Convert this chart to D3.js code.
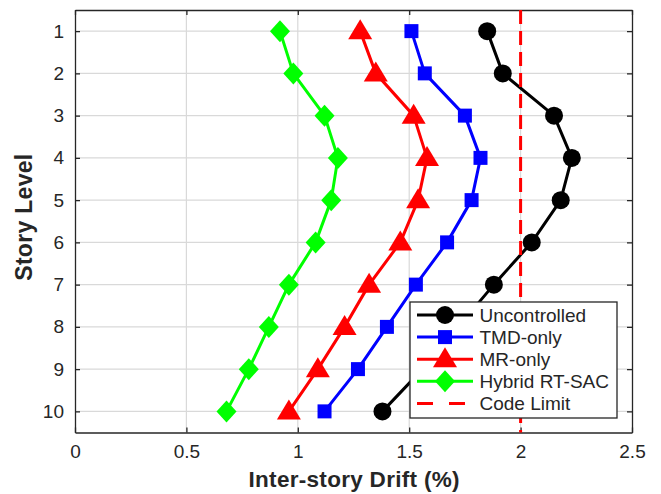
<!DOCTYPE html>
<html>
<head>
<meta charset="utf-8">
<script src="https://cdn.jsdelivr.net/npm/d3@7"></script>
<style>
  html, body { margin: 0; padding: 0; background: #fff; }
  svg { display: block; }
  text { font-family: "Liberation Sans", Arial, Helvetica, sans-serif; }
</style>
</head>
<body>
<svg id="chart" width="661" height="494"></svg>
<script>
const storyLevels = [1, 2, 3, 4, 5, 6, 7, 8, 9, 10];
const uncontrolled = [1.85, 1.92, 2.15, 2.23, 2.18, 2.05, 1.88, 1.72, 1.56, 1.38];
const tmdOnly      = [1.51, 1.57, 1.75, 1.82, 1.78, 1.67, 1.53, 1.40, 1.27, 1.12];
const mrOnly       = [1.28, 1.35, 1.52, 1.58, 1.54, 1.46, 1.32, 1.21, 1.09, 0.96];
const hybrid       = [0.92, 0.98, 1.12, 1.18, 1.15, 1.08, 0.96, 0.87, 0.78, 0.68];
const codeLimit = 2.0;
const seriesNames = ["Uncontrolled", "TMD-only", "MR-only", "Hybrid RT-SAC", "Code Limit"];
const xTicks = [0, 0.5, 1, 1.5, 2, 2.5];
const yTicks = [1, 2, 3, 4, 5, 6, 7, 8, 9, 10];

const svg = d3.select("#chart");
const L = 75, R = 632, T = 10, B = 432.5;
const x = d3.scaleLinear().domain([0, 2.5]).range([L, R]);
const y = d3.scaleLinear().domain([0.5, 10.5]).range([T, B]);
const axisColor = "#262626";
const gridColor = "#d9d9d9";

// grid
const grid = svg.append("g");
grid.selectAll(".gx").data(xTicks.slice(1, -1)).enter().append("line")
  .attr("x1", d => x(d)).attr("x2", d => x(d)).attr("y1", T).attr("y2", B)
  .attr("stroke", gridColor).attr("stroke-width", 1.2);
grid.selectAll(".gy").data(yTicks).enter().append("line")
  .attr("x1", L).attr("x2", R).attr("y1", d => y(d)).attr("y2", d => y(d))
  .attr("stroke", gridColor).attr("stroke-width", 1.2);

// axes (ticks inward)
const tickLen = 5;
const fmt = d => d3.format("~g")(d);
const axB = svg.append("g").attr("transform", `translate(0,${B})`)
  .call(d3.axisBottom(x).tickValues(xTicks).tickFormat(fmt).tickSizeInner(-tickLen).tickSizeOuter(0).tickPadding(12));
const axT = svg.append("g").attr("transform", `translate(0,${T})`)
  .call(d3.axisTop(x).tickValues(xTicks).tickFormat("").tickSizeInner(-tickLen).tickSizeOuter(0));
const axL = svg.append("g").attr("transform", `translate(${L},0)`)
  .call(d3.axisLeft(y).tickValues(yTicks).tickFormat(fmt).tickSizeInner(-tickLen).tickSizeOuter(0).tickPadding(11));
const axR = svg.append("g").attr("transform", `translate(${R},0)`)
  .call(d3.axisRight(y).tickValues(yTicks).tickFormat("").tickSizeInner(-tickLen).tickSizeOuter(0));
[axB, axT, axL, axR].forEach(g => {
  g.select(".domain").attr("stroke", axisColor).attr("stroke-width", 1.3);
  g.selectAll(".tick line").attr("stroke", axisColor).attr("stroke-width", 1.3);
  g.selectAll(".tick text").attr("fill", axisColor)
    .style("font-size", "19px").style("font-family", '"Liberation Sans", Arial, sans-serif');
});

// series
const series = [
  { name: seriesNames[0], values: uncontrolled, color: "#000000", marker: "circle" },
  { name: seriesNames[1], values: tmdOnly, color: "#0000ff", marker: "square" },
  { name: seriesNames[2], values: mrOnly, color: "#ff0000", marker: "triangle" },
  { name: seriesNames[3], values: hybrid, color: "#00ff00", marker: "diamond" }
];
const markerPath = {
  circle: d3.symbol().type(d3.symbolCircle).size(Math.PI * 9 * 9)(),
  square: "M-7,-7H7V7H-7Z",
  triangle: "M0,-12L12,8H-12Z",
  diamond: "M0,-11L10,0L0,11L-10,0Z"
};
const line = d3.line().x(d => x(d.v)).y(d => y(d.s));

series.forEach(s => {
  const pts = s.values.map((v, i) => ({ v, s: storyLevels[i] }));
  const g = svg.append("g");
  g.append("path").datum(pts).attr("d", line)
    .attr("fill", "none").attr("stroke", s.color).attr("stroke-width", 3).attr("stroke-linejoin", "round");
  g.selectAll("path.m").data(pts).enter().append("path").attr("class", "m")
    .attr("d", markerPath[s.marker])
    .attr("transform", d => `translate(${x(d.v)},${y(d.s)})`)
    .attr("fill", s.color);
});

// code limit
svg.append("line")
  .attr("x1", x(codeLimit)).attr("x2", x(codeLimit)).attr("y1", T).attr("y2", B)
  .attr("stroke", "#ff0000").attr("stroke-width", 3).attr("stroke-dasharray", "14,7");

// axis labels
svg.append("text").attr("x", (L + R) / 2 + 0.5).attr("y", 487).attr("text-anchor", "middle")
  .style("font-size", "22.5px").style("font-weight", "bold").attr("fill", axisColor)
  .attr("textLength", 211).attr("lengthAdjust", "spacing")
  .text("Inter-story Drift (%)");
svg.append("text").attr("transform", `translate(32,${(T + B) / 2 - 4}) rotate(-90)`).attr("text-anchor", "middle")
  .style("font-size", "23px").style("font-weight", "bold").attr("fill", axisColor)
  .attr("textLength", 127).attr("lengthAdjust", "spacing")
  .text("Story Level");

// legend
const lg = svg.append("g");
lg.append("rect").attr("x", 410).attr("y", 302).attr("width", 207).attr("height", 116)
  .attr("fill", "#fff").attr("stroke", axisColor).attr("stroke-width", 1.3);
const legItems = series.concat([{ name: seriesNames[4], color: "#ff0000", marker: null, dashed: true }]);
const rowY = i => 315 + i * 22.1;
legItems.forEach((s, i) => {
  const yy = rowY(i);
  const ln = lg.append("line").attr("x1", 417).attr("x2", 473).attr("y1", yy).attr("y2", yy)
    .attr("stroke", s.color).attr("stroke-width", 3);
  if (s.dashed) ln.attr("stroke-dasharray", "16,16");
  if (s.marker) {
    lg.append("path").attr("d", markerPath[s.marker])
      .attr("transform", `translate(445,${yy})`).attr("fill", s.color);
  }
  lg.append("text").attr("x", 479.5).attr("y", yy).attr("dy", "0.35em")
    .style("font-size", "19px").attr("fill", axisColor).text(s.name);
});
</script>
</body>
</html>
